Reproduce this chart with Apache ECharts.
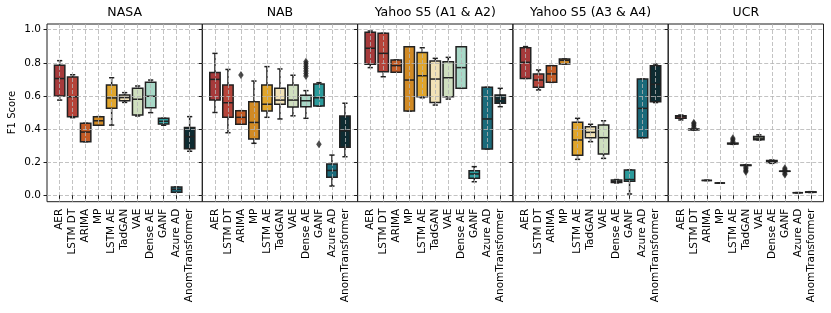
<!DOCTYPE html>
<html>
<head>
<meta charset="utf-8">
<script src="https://cdn.jsdelivr.net/npm/echarts@6/dist/echarts.min.js"></script>
<style>
html,body{margin:0;padding:0;background:#fff;}
#chart{width:831px;height:313px;}
</style>
</head>
<body>
<div id="chart"></div>
<script>
// ---- data ----
const categories = ['AER','LSTM DT','ARIMA','MP','LSTM AE','TadGAN','VAE','Dense AE','GANF','Azure AD','AnomTransformer'];
const panelTitles = ['NASA','NAB','Yahoo S5 (A1 & A2)','Yahoo S5 (A3 & A4)','UCR'];
const yTicks = [0.0, 0.2, 0.4, 0.6, 0.8, 1.0];

// box stats per category: [min, q1, median, q3, max]
const nasaBoxes = [
  [0.575, 0.600, 0.705, 0.785, 0.813],
  [0.469, 0.475, 0.595, 0.714, 0.728],
  [0.324, 0.324, 0.382, 0.435, 0.435],
  [0.423, 0.423, 0.450, 0.475, 0.475],
  [0.424, 0.525, 0.588, 0.666, 0.710],
  [0.561, 0.571, 0.590, 0.605, 0.620],
  [0.479, 0.485, 0.580, 0.646, 0.660],
  [0.499, 0.529, 0.598, 0.682, 0.696],
  [0.423, 0.430, 0.447, 0.465, 0.465],
  [0.018, 0.018, 0.036, 0.050, 0.050],
  [0.266, 0.281, 0.355, 0.410, 0.475]
];
const nabBoxes = [
  [0.500, 0.575, 0.700, 0.742, 0.857],
  [0.378, 0.471, 0.559, 0.666, 0.760],
  [0.429, 0.429, 0.471, 0.511, 0.511],
  [0.314, 0.340, 0.440, 0.565, 0.690],
  [0.471, 0.509, 0.550, 0.666, 0.777],
  [0.461, 0.550, 0.575, 0.646, 0.763],
  [0.480, 0.533, 0.575, 0.666, 0.725],
  [0.465, 0.535, 0.571, 0.604, 0.632],
  [0.539, 0.539, 0.589, 0.672, 0.680],
  [0.056, 0.109, 0.150, 0.189, 0.243],
  [0.233, 0.290, 0.390, 0.479, 0.556]
];
const yahooA12Boxes = [
  [0.771, 0.791, 0.888, 0.984, 0.992],
  [0.716, 0.746, 0.857, 0.978, 0.978],
  [0.743, 0.743, 0.783, 0.817, 0.817],
  [0.509, 0.509, 0.696, 0.897, 0.897],
  [0.589, 0.595, 0.722, 0.863, 0.891],
  [0.545, 0.561, 0.702, 0.811, 0.827],
  [0.581, 0.595, 0.710, 0.807, 0.833],
  [0.646, 0.646, 0.771, 0.897, 0.897],
  [0.082, 0.103, 0.129, 0.149, 0.173],
  [0.280, 0.280, 0.461, 0.652, 0.652],
  [0.535, 0.556, 0.580, 0.606, 0.646]
];
const yahooA34Boxes = [
  [0.706, 0.706, 0.803, 0.891, 0.898],
  [0.636, 0.652, 0.696, 0.732, 0.757],
  [0.682, 0.682, 0.733, 0.783, 0.783],
  [0.793, 0.793, 0.815, 0.823, 0.823],
  [0.217, 0.242, 0.334, 0.441, 0.465],
  [0.324, 0.348, 0.380, 0.414, 0.429],
  [0.223, 0.249, 0.348, 0.424, 0.450],
  [0.075, 0.078, 0.085, 0.093, 0.095],
  [0.008, 0.085, 0.095, 0.153, 0.153],
  [0.348, 0.348, 0.525, 0.702, 0.702],
  [0.560, 0.565, 0.670, 0.783, 0.793]
];
const ucrBoxes = [
  [0.455, 0.465, 0.475, 0.480, 0.485],
  [0.395, 0.395, 0.398, 0.400, 0.400],
  [0.090, 0.090, 0.090, 0.090, 0.090],
  [0.074, 0.074, 0.074, 0.074, 0.074],
  [0.308, 0.310, 0.312, 0.315, 0.315],
  [0.180, 0.180, 0.181, 0.183, 0.183],
  [0.334, 0.336, 0.345, 0.355, 0.365],
  [0.193, 0.198, 0.205, 0.210, 0.213],
  [0.145, 0.145, 0.145, 0.146, 0.146],
  [0.016, 0.016, 0.016, 0.016, 0.016],
  [0.017, 0.018, 0.020, 0.021, 0.022]
];
// outliers: [categoryIndex, value]
const nasaOutliers = [];
const nabOutliers = [[2, 0.726],[7, 0.720],[7, 0.735],[7, 0.750],[7, 0.765],[7, 0.780],[7, 0.795],[7, 0.807],[8, 0.308]];
const yahooA12Outliers = [];
const yahooA34Outliers = [];
const ucrOutliers = [[1, 0.410],[1, 0.420],[1, 0.430],[1, 0.438],[4, 0.325],[4, 0.335],[4, 0.345],
  [5, 0.170],[5, 0.160],[5, 0.150],[5, 0.142],[8, 0.125],[8, 0.135],[8, 0.155],[8, 0.163]];

const panelBoxes = [nasaBoxes, nabBoxes, yahooA12Boxes, yahooA34Boxes, ucrBoxes];
const panelOutliers = [nasaOutliers, nabOutliers, yahooA12Outliers, yahooA34Outliers, ucrOutliers];

// ---- styling ----
const boxColors = ['#a63a3b','#b5443a','#c25b26','#d18a24','#e0a52c','#f1e2b7','#cfdfbf','#a8d8c7','#2b9a9b','#1a6a7a','#0e2b31'];
const EDGE = '#222222';
const GRIDC = '#b4b4b4';
const FONT = 'DejaVu Sans';

// ---- layout ----
const PANEL_LEFT = 47, PANEL_W = 155.3, FRAME_TOP = 24, FRAME_H = 177.7;
const STEP = 13;
const OFF = (PANEL_W - 10 * STEP) / 2;
const LO = -0.0386, HI = 1.0344;
const yTop = FRAME_TOP + (HI - 1) / (HI - LO) * FRAME_H;
const yH = 1 / (HI - LO) * FRAME_H;

const grids = [], xAxes = [], yAxes = [], series = [], graphics = [];

function renderBox(params, api) {
  const x = api.value(0);
  const pMin = api.coord([x, api.value(1)]);
  const pQ1 = api.coord([x, api.value(2)]);
  const pMed = api.coord([x, api.value(3)]);
  const pQ3 = api.coord([x, api.value(4)]);
  const pMax = api.coord([x, api.value(5)]);
  const bw = api.size([0.8, 0])[0];
  const cw = api.size([0.4, 0])[0];
  const cx = pMed[0];
  const ls = {stroke: EDGE, lineWidth: 1.5};
  return {
    type: 'group',
    children: [
      {type: 'line', shape: {x1: cx, y1: pQ3[1], x2: cx, y2: pMax[1]}, style: ls},
      {type: 'line', shape: {x1: cx, y1: pQ1[1], x2: cx, y2: pMin[1]}, style: ls},
      {type: 'line', shape: {x1: cx - cw / 2, y1: pMax[1], x2: cx + cw / 2, y2: pMax[1]}, style: ls},
      {type: 'line', shape: {x1: cx - cw / 2, y1: pMin[1], x2: cx + cw / 2, y2: pMin[1]}, style: ls},
      {type: 'rect', shape: {x: cx - bw / 2, y: pQ3[1], width: bw, height: pQ1[1] - pQ3[1]},
        style: {fill: boxColors[x], stroke: EDGE, lineWidth: 1.5}},
      {type: 'line', shape: {x1: cx - bw / 2, y1: pMed[1], x2: cx + bw / 2, y2: pMed[1]}, style: ls}
    ]
  };
}

panelTitles.forEach((title, i) => {
  const L = PANEL_LEFT + i * PANEL_W;
  const gC = 3 * i, gA = 3 * i + 1, gB = 3 * i + 2;
  // frame grid
  grids.push({left: L, top: FRAME_TOP, width: PANEL_W, height: FRAME_H, show: true,
    borderColor: '#1e1e1e', borderWidth: 1, backgroundColor: 'rgba(0,0,0,0)'});
  xAxes.push({gridIndex: gC, type: 'value', show: false, min: 0, max: 1});
  yAxes.push({gridIndex: gC, type: 'value', show: false, min: 0, max: 1});
  // y grid (horizontal lines, ticks, labels)
  grids.push({left: L, top: yTop, width: PANEL_W, height: yH});
  xAxes.push({gridIndex: gA, type: 'value', show: false, min: 0, max: 1});
  yAxes.push({
    gridIndex: gA, type: 'value', min: 0, max: 1, interval: 0.2, z: 10,
    axisLine: {show: false},
    axisTick: {show: true, length: 3.5, lineStyle: {color: '#1e1e1e', width: 1}},
    axisLabel: {show: i === 0, margin: 6, color: '#000', fontFamily: FONT, fontSize: 10.5,
      formatter: v => yTicks.includes(+v.toFixed(1)) ? v.toFixed(1) : ''},
    splitLine: {show: true, lineStyle: {color: GRIDC, width: 0.8, type: [4, 2]}},
    name: i === 0 ? 'F1 Score' : '', nameLocation: 'middle', nameGap: 30,
    nameTextStyle: {color: '#000', fontFamily: FONT, fontSize: 10}
  });
  // category grid + data
  grids.push({left: L + OFF, top: FRAME_TOP, width: 10 * STEP, height: FRAME_H});
  xAxes.push({
    gridIndex: gB, type: 'value', min: 0, max: 10, interval: 1, z: 10,
    axisLine: {show: false},
    axisTick: {show: true, length: 3.5, lineStyle: {color: '#1e1e1e', width: 1}},
    axisLabel: {show: true, rotate: 90, margin: 7, color: '#000', fontFamily: FONT, fontSize: 10.5,
      showMinLabel: true, showMaxLabel: true, hideOverlap: false,
      formatter: v => categories[Math.round(v)] || ''},
    splitLine: {show: true, lineStyle: {color: GRIDC, width: 0.8, type: [4, 2]}}
  });
  yAxes.push({gridIndex: gB, type: 'value', show: false, min: LO, max: HI});

  series.push({
    type: 'custom', xAxisIndex: gB, yAxisIndex: gB, z: 2, clip: false,
    renderItem: renderBox,
    encode: {x: 0, y: [1, 2, 3, 4, 5]},
    data: panelBoxes[i].map((b, k) => [k].concat(b))
  });
  series.push({
    type: 'scatter', xAxisIndex: gB, yAxisIndex: gB, z: 12,
    symbol: 'diamond', symbolSize: [5.5, 8],
    itemStyle: {color: EDGE},
    data: panelOutliers[i]
  });

  graphics.push({type: 'text', x: L + PANEL_W / 2, y: 13,
    style: {text: title, fill: '#000', font: '12.5px "DejaVu Sans"', textAlign: 'center', textVerticalAlign: 'middle'}});
});

const chart = echarts.init(document.getElementById('chart'), null, {renderer: 'canvas'});
chart.setOption({
  animation: false,
  backgroundColor: '#fff',
  grid: grids,
  xAxis: xAxes,
  yAxis: yAxes,
  series: series,
  graphic: graphics
});
</script>
</body>
</html>
